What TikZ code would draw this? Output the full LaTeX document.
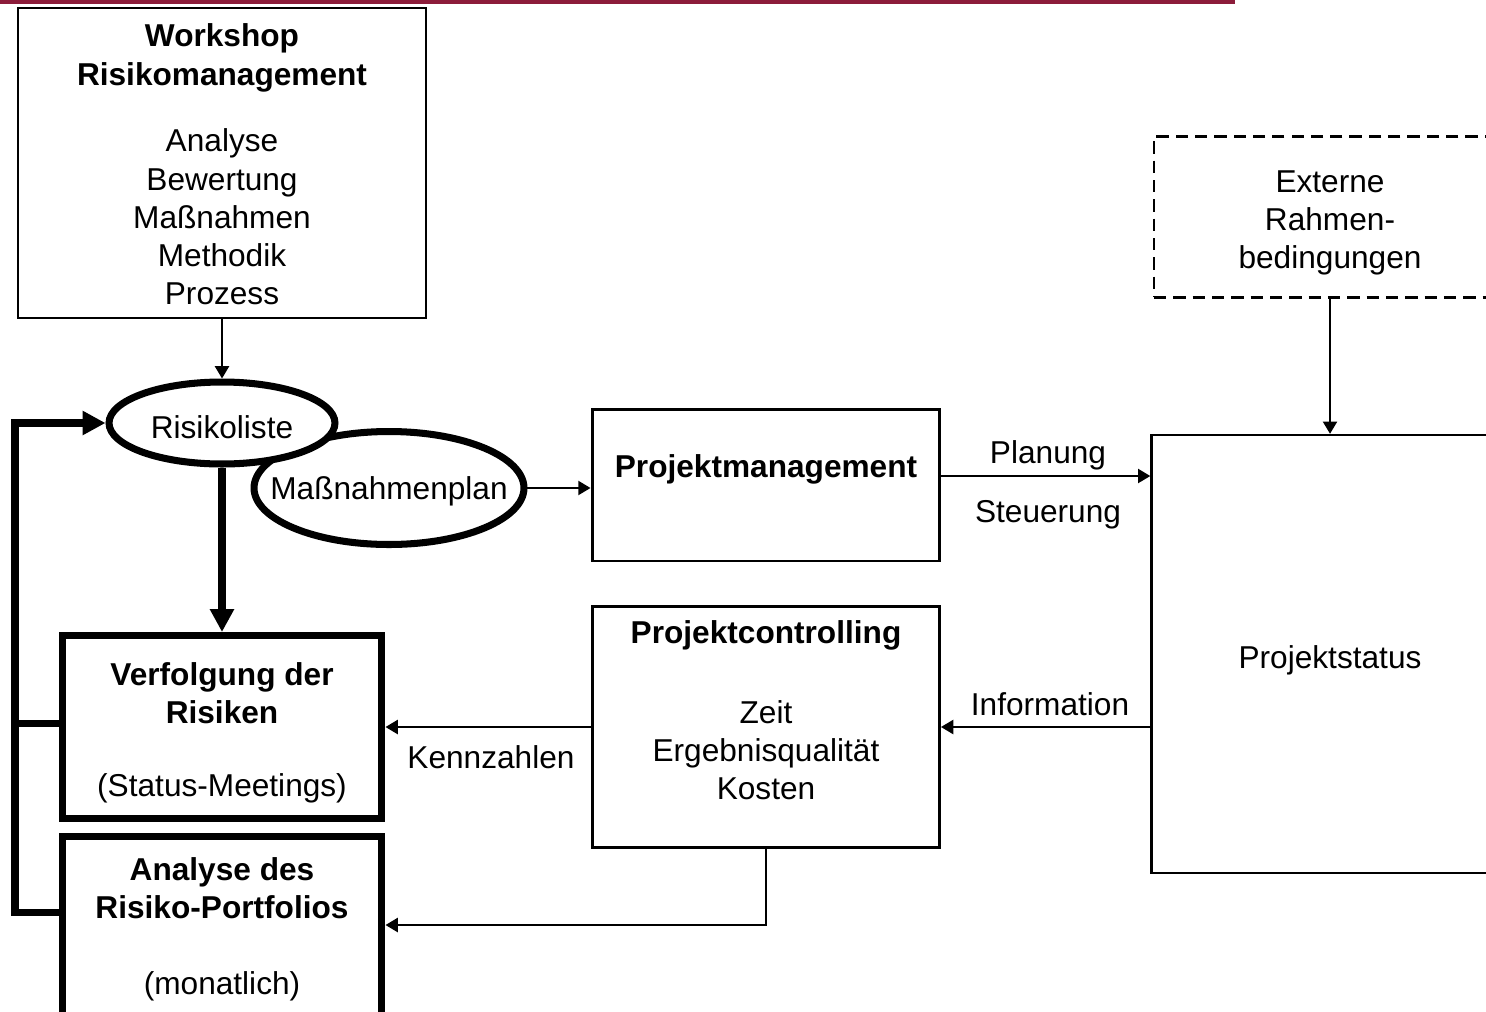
\documentclass[tikz,border=0pt]{standalone}
\usepackage{fontspec}
\setmainfont{Liberation Sans}
\usetikzlibrary{shapes.geometric,arrows.meta}
\definecolor{topred}{RGB}{140,28,58}
\newcommand\bigsz{\fontsize{18}{21.8}\selectfont}
\begin{document}
\begin{tikzpicture}[x=0.02cm,y=-0.02cm,font=\bigsz,
  >={Triangle[length=7pt,width=8pt]},
  box/.style={draw,line width=1.4pt,inner sep=0pt,align=center},
  fatbox/.style={draw,line width=4pt,inner sep=0pt},
  oval/.style={draw,ellipse,line width=4pt,fill=white,inner sep=0pt},
  txt/.style={align=center,inner sep=0pt},
  btxt/.style={txt,font=\bigsz\bfseries},
  conn/.style={->,line width=1.2pt},
  fat/.style={line width=4pt},
  fatarr/.style={fat,-{Triangle[length=13pt,width=13pt]}}]
\useasboundingbox (0,0) rectangle (1486,1011);
\clip (0,0) rectangle (1486,1011);
\fill[topred] (0,0) rectangle (1235,4);
% boxes
\node[box,minimum width=8.16cm,minimum height=6.2cm] (ws) at (222,163) {};
\node[fatbox,minimum width=6.4cm,minimum height=3.66cm] (verf) at (222,727) {};
\node[fatbox,minimum width=6.4cm,minimum height=4.2cm] (ana) at (222,941) {};
\node[box,line width=1.7pt,minimum width=6.96cm,minimum height=3.04cm] (pm) at (766,485) {};
\node[box,line width=1.7pt,minimum width=6.94cm,minimum height=4.84cm] (pc) at (766,727) {};
\node[box,minimum width=7.14cm,minimum height=8.76cm,label={[txt,yshift=-0.12cm]center:Projektstatus}] (ps) at (1330,654) {};
\node[box,line width=1.2pt,dash pattern=on 7pt off 4pt,minimum width=7.04cm,minimum height=3.22cm,label={[txt,yshift=-0.12cm]center:Externe\\Rahmen-\\bedingungen}] (ext) at (1330,217) {};
% ovals
\node[oval,minimum width=5.4cm,minimum height=2.26cm,label={[txt,yshift=-0.06cm]center:Maßnahmenplan}] (mp) at (389,488) {};
\node[oval,minimum width=4.52cm,minimum height=1.64cm,label={[txt,yshift=-0.08cm]center:Risikoliste}] (rl) at (222,423) {};
% texts
\node[btxt] (wsT) at (222,58) {Workshop\\Risikomanagement};
\node[txt] (wsL) at (222,217) {Analyse\\Bewertung\\Maßnahmen\\Methodik\\Prozess};
\node[btxt] (verfT) at (222,693) {Verfolgung der\\Risiken};
\node[txt] (verfS) at (222,788) {(Status-Meetings)};
\node[btxt] (anaT) at (222,888) {Analyse des\\Risiko-Portfolios};
\node[txt] (anaS) at (222,986) {(monatlich)};
\node[btxt] (pmT) at (766,469) {Projektmanagement};
\node[btxt] (pcT) at (766,635) {Projektcontrolling};
\node[txt] (pcL) at (766,750) {Zeit\\Ergebnisqualität\\Kosten};
\node[txt] (plan) at (1048,455) {Planung};
\node[txt] (steu) at (1048,515) {Steuerung};
\node[txt] (info) at (1050,704) {Information};
\node[txt] (kenn) at (491,757) {Kennzahlen};
% connectors
\draw[conn] (ws) -- (rl);
\draw[fatarr] (rl) -- (verf);
\draw[conn] (mp) -- (mp -| pm.west);
\draw[conn] ([yshift=0.18cm]pm.east) -- ([yshift=0.18cm]pm.east -| ps.west);
\draw[conn] (ext) -- (ps);
\draw[conn] (pc.east -| ps.west) -- (pc.east);
\draw[conn] (pc.west) -- (pc.west -| verf.east);
\draw[conn] (pc.south) |- ([yshift=0.32cm]ana.east);
\coordinate (loopB) at (15,912);
\draw[fat] ([yshift=0.08cm]verf.west) -- ([yshift=0.08cm]verf.west -| loopB);
\draw[fatarr] (loopB -| ana.west) -- (loopB) |- (rl.west);
\end{tikzpicture}
\end{document}
